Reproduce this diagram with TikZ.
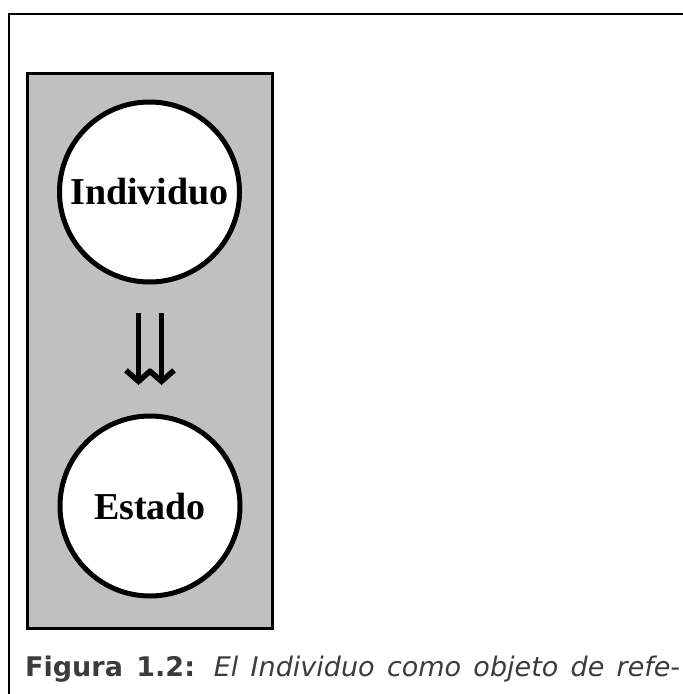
\documentclass[tikz,border=0pt]{standalone}
\usepackage{fontspec}
\usetikzlibrary{arrows.meta}
\newfontfamily\capfont[BoldFont={DejaVu Sans Bold},ItalicFont={DejaVu Sans Oblique}]{DejaVu Sans}
\newfontfamily\nodefont[BoldFont={Liberation Serif Bold}]{Liberation Serif}
\definecolor{panelgray}{RGB}{192,192,192}
\definecolor{captext}{RGB}{60,60,60}
\tikzset{
  frameline/.style={line width=2.6pt},
  panel/.style={draw=black,line width=2.6pt,fill=panelgray},
  concept/.style={circle,draw=black,fill=white,line width=5pt,minimum size=180pt,inner sep=0pt,outer sep=0pt,
    font=\nodefont\bfseries\fontsize{38}{40}\selectfont},
  flowarrow/.style={line width=5.5pt,-{Straight Barb[length=11pt,width=25pt]}}
}
\begin{document}
\begin{tikzpicture}[x=1pt,y=-1pt]
\useasboundingbox (0,0) rectangle (683,694);
\draw[frameline] (9,694) -- (9,14) -- (683,14);
\node[panel,minimum width=245pt,minimum height=555pt,inner sep=0pt,anchor=north west] (panel) at (26,72) {};
\node[concept] (ind) at (149.5,192) {Individuo};
\node[concept] (est) at (150,506) {Estado};
\draw[flowarrow] ([shift={(-11,31)}]ind.south) -- ([shift={(-11.5,-31)}]est.north);
\draw[flowarrow] ([shift={(12,31)}]ind.south) -- ([shift={(11.5,-31)}]est.north);
\node[anchor=base west,inner sep=0pt,text=captext] (cap) at (25,676)
  {\capfont\fontsize{27}{30}\selectfont\makebox[655pt][s]{\textbf{Figura 1.2:} \textit{El Individuo como objeto de refe-}}};
\end{tikzpicture}
\end{document}
